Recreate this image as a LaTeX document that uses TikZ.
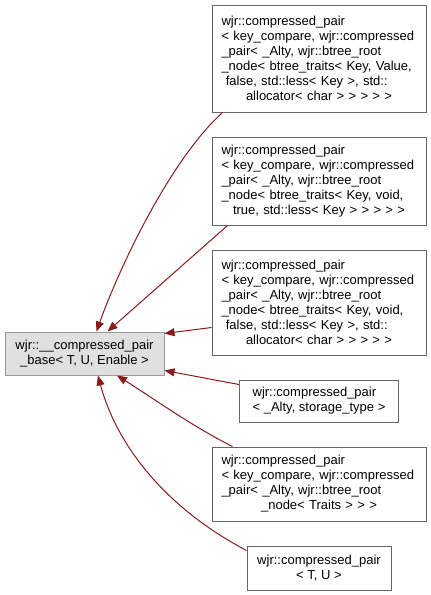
\documentclass[tikz,border=0pt]{standalone}
\usepackage{fontspec}
\setmainfont{Liberation Sans}
\usetikzlibrary{arrows.meta, positioning}
\definecolor{edgecolor}{HTML}{8B1A1A}
\definecolor{framecolor}{HTML}{666666}
\definecolor{basecolor}{HTML}{E0E0E0}
\definecolor{baseframe}{HTML}{999999}
\newcommand{\ctrline}[1]{\makebox[\linewidth][c]{#1}}

\begin{document}
\begin{tikzpicture}[
    x=1pt, y=-1pt,
    box/.style={draw=framecolor, fill=white, line width=1pt, inner xsep=9.5pt, inner ysep=0pt, font=\fontsize{13}{15}\selectfont},
    wide/.style={box, text width=195pt, align=left},
    edge/.style={draw=edgecolor, line width=1pt},
    >={Triangle[length=10pt, width=8pt]}, node distance=24pt
  ]
  \useasboundingbox (0,0) rectangle (431,595);

  \node[wide, minimum height=107pt] (kvfalse) at (319,58.5) {wjr::compressed\_pair\\< key\_compare, wjr::compressed\\\_pair< \_Alty, wjr::btree\_root\\\_node< btree\_traits< Key, Value,\\~false, std::less< Key >, std::\\\ctrline{allocator< char > > > > >}};
  \node[wide, minimum height=88pt, below=of kvfalse] (kvtrue) {wjr::compressed\_pair\\< key\_compare, wjr::compressed\\\_pair< \_Alty, wjr::btree\_root\\\_node< btree\_traits< Key, void,\\\ctrline{true, std::less< Key > > > > >}};
  \node[wide, minimum height=105pt, below=of kvtrue] (kvoid) {wjr::compressed\_pair\\< key\_compare, wjr::compressed\\\_pair< \_Alty, wjr::btree\_root\\\_node< btree\_traits< Key, void,\\~false, std::less< Key >, std::\\\ctrline{allocator< char > > > > >}};
  \node[box, align=left, minimum width=159pt, minimum height=42pt, below=of kvoid] (alty) {wjr::compressed\_pair\\< \_Alty, storage\_type >};
  \node[wide, minimum height=74pt, below=of alty] (traits) {wjr::compressed\_pair\\< key\_compare, wjr::compressed\\\_pair< \_Alty, wjr::btree\_root\\\ctrline{\_node< Traits > > >}};
  \node[box, align=center, minimum width=144pt, minimum height=44pt, below=of traits] (tu) {wjr::compressed\_pair\\< T, U >};

  \node[box, draw=baseframe, fill=basecolor, align=center, minimum width=159pt, minimum height=43pt] (base) at (84.5,353.5) {wjr::\_\_compressed\_pair\\\_base< T, U, Enable >};

  \draw[edge, ->] ([xshift=11pt]kvfalse.south west) .. controls +(-53,48) and +(22,-62) .. ([xshift=12pt]base.north);
  \draw[edge, ->] ([xshift=16pt]kvtrue.south west) -- ([xshift=23pt]base.north);
  \draw[edge, ->] ([yshift=28pt]kvoid.south west) -- ([yshift=-2pt]base.north east);
  \draw[edge, ->] ([yshift=-5pt]alty.north west) -- ([yshift=5pt]base.south east);
  \draw[edge, ->] ([xshift=21pt]traits.north west) .. controls +(-40,-20) and +(35,22) .. ([xshift=32.5pt]base.south);
  \draw[edge, ->] ([yshift=-5pt]tu.north west) .. controls +(-87,-46) and +(17,64) .. ([xshift=13.5pt]base.south);
\end{tikzpicture}
\end{document}
